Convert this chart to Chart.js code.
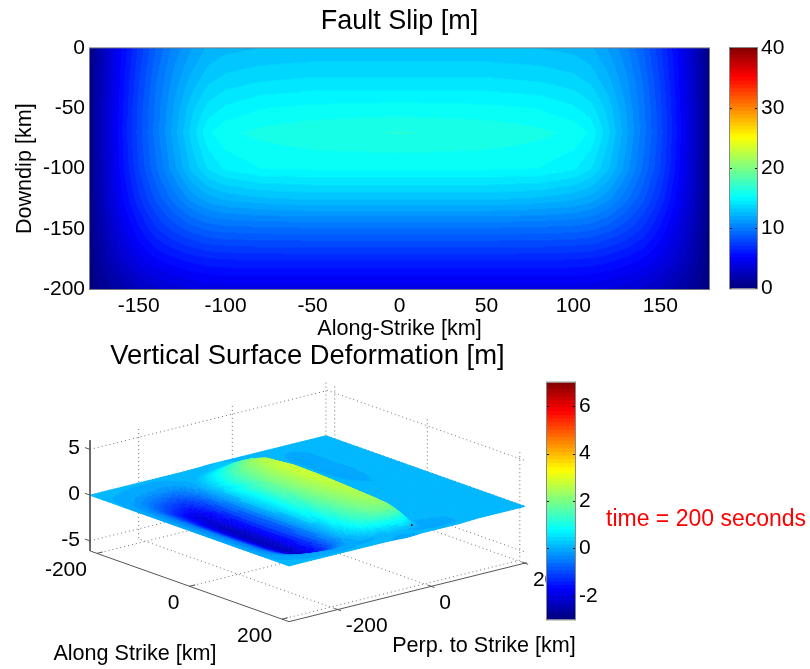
<!DOCTYPE html>
<html>
<head>
<meta charset="utf-8">
<title>Fault Slip and Surface Deformation</title>
<script src="https://cdn.jsdelivr.net/npm/chart.js@4"></script>
<style>
  body { margin: 0; background: #fff; }
  canvas { position: absolute; }
</style>
</head>
<body>
<canvas id="deform" width="810" height="329" style="left:0;top:340px"></canvas>
<canvas id="slip" width="720" height="345" style="left:0;top:0"></canvas>
<canvas id="slipBar" width="90" height="275" style="left:720px;top:30px"></canvas>
<canvas id="deformBar" width="90" height="270" style="left:537px;top:366px"></canvas>
<script>
// fault slip [m]
const slipX = [-178, -170, -160, -150, -140, -130, -120, -110, -100, -80, -50, 0, 50, 80, 100, 110, 120, 130, 140, 150, 160, 170, 178];
const slipY = [0, -25, -50, -70, -100, -125, -150, -175, -200];
const slipGrid = [
  [0.4, 2.5, 5.0, 7.0, 8.8, 10.2, 11.2, 12.0, 12.3, 12.5, 12.6, 12.6, 12.6, 12.5, 12.3, 12.0, 11.2, 10.2, 8.8, 7.0, 5.0, 2.5, 0.4],
  [0.4, 2.6, 5.2, 7.4, 9.3, 10.8, 12.0, 12.9, 13.3, 13.6, 13.8, 13.8, 13.8, 13.6, 13.3, 12.9, 12.0, 10.8, 9.3, 7.4, 5.2, 2.6, 0.4],
  [0.5, 2.8, 5.4, 7.7, 9.6, 11.3, 12.9, 14.0, 14.5, 15.0, 15.2, 15.3, 15.2, 15.0, 14.5, 14.0, 12.9, 11.3, 9.6, 7.7, 5.4, 2.8, 0.5],
  [0.5, 2.8, 5.5, 7.8, 9.7, 11.5, 13.3, 14.9, 15.5, 15.8, 16.1, 16.3, 16.1, 15.8, 15.5, 14.9, 13.3, 11.5, 9.7, 7.8, 5.5, 2.8, 0.5],
  [0.5, 2.7, 5.3, 7.5, 9.3, 11.0, 12.6, 13.8, 14.5, 15.0, 15.1, 15.1, 15.1, 15.0, 14.5, 13.8, 12.6, 11.0, 9.3, 7.5, 5.3, 2.7, 0.5],
  [0.4, 2.5, 4.8, 6.7, 8.3, 9.6, 10.8, 11.6, 12.0, 12.4, 12.6, 12.6, 12.6, 12.4, 12.0, 11.6, 10.8, 9.6, 8.3, 6.7, 4.8, 2.5, 0.4],
  [0.3, 2.1, 4.0, 5.5, 6.8, 7.7, 8.4, 8.9, 9.1, 9.2, 9.3, 9.3, 9.3, 9.2, 9.1, 8.9, 8.4, 7.7, 6.8, 5.5, 4.0, 2.1, 0.3],
  [0.2, 1.6, 3.0, 4.2, 5.0, 5.5, 5.9, 6.2, 6.3, 6.4, 6.4, 6.4, 6.4, 6.4, 6.3, 6.2, 5.9, 5.5, 5.0, 4.2, 3.0, 1.6, 0.2],
  [0.1, 0.8, 1.6, 2.4, 3.0, 3.4, 3.7, 3.9, 4.0, 4.0, 4.0, 4.0, 4.0, 4.0, 4.0, 3.9, 3.7, 3.4, 3.0, 2.4, 1.6, 0.8, 0.1],
];
const slipXTicks = [-150, -100, -50, 0, 50, 100, 150];
const slipYTicks = [0, -50, -100, -150, -200];
const slipBarTicks = [0, 10, 20, 30, 40];

// vertical deformation [m]
const alongNodes = [-215, -190, -175, -160, -140, -110, -50, 0, 50, 110, 140, 160, 175, 190, 215];
const perpNodes = [200, 130, 100, 60, 20, 8, 0, -8, -20, -32, -50, -70, -95, -115, -130, -145, -160, -175, -190, -210, -240, -270, -304];
const deformGrid = [
  [.1, .1, .1, .1, .1, .1, .1, .1, .1, .1, .1, .1, .1, .1, .1],
  [.1, .05, .02, 0, 0, 0, .02, .08, .1, .1, .1, .1, .1, .1, .1],
  [.1, -.05, -.12, -.16, -.16, -.16, -.12, 0, .1, .1, .1, .1, .1, .1, .1],
  [.1, .05, .02, 0, 0, 0, 0, .05, .1, .1, .1, .1, -.05, -.08, 0],
  [.1, .08, .08, .08, .08, .08, .08, .08, .08, .08, .08, 0, -.12, -.12, 0],
  [.1, .1, .12, .15, .2, .2, .2, .2, .2, .15, .1, 0, -.08, -.1, 0],
  [.1, .1, .15, .25, .35, .45, .5, .5, .45, .4, .4, .35, .15, -.08, 0],
  [.1, .12, .35, .63, .9, 1.2, 1.4, 1.37, 1.3, 1.18, 1.1, .92, .45, -.08, 0],
  [.1, .18, .6, 1.08, 1.56, 2.1, 2.35, 2.3, 2.15, 2.0, 1.87, 1.58, .77, -.05, 0],
  [.1, .23, .72, 1.3, 1.88, 2.5, 2.8, 2.75, 2.62, 2.4, 2.24, 1.9, .93, .05, -.05],
  [.1, .2, .7, 1.28, 1.82, 2.42, 2.72, 2.7, 2.56, 2.35, 2.15, 1.8, .85, .02, -.1],
  [.05, .15, .5, 1.0, 1.5, 2.05, 2.35, 2.33, 2.2, 2.0, 1.82, 1.48, .65, 0, -.05],
  [.02, .05, .3, .65, 1.05, 1.5, 1.75, 1.75, 1.65, 1.5, 1.32, 1.02, .4, -.03, 0],
  [0, 0, .08, .3, .55, .88, 1.05, 1.05, 1.0, .88, .75, .52, .18, -.05, 0],
  [0, 0, -.02, 0, .15, .36, .45, .45, .42, .36, .27, .13, -.02, -.05, 0],
  [0, -.02, -.06, -.15, -.26, -.36, -.4, -.4, -.4, -.38, -.35, -.25, -.15, -.05, 0],
  [0, -.05, -.2, -.5, -.85, -1.3, -1.5, -1.55, -1.55, -1.45, -1.22, -.78, -.4, -.12, 0],
  [0, -.08, -.3, -.7, -1.25, -2.0, -2.35, -2.42, -2.42, -2.28, -1.92, -1.2, -.6, -.2, 0],
  [0, -.08, -.28, -.66, -1.2, -1.92, -2.22, -2.3, -2.3, -2.18, -1.84, -1.16, -.58, -.2, 0],
  [0, -.07, -.24, -.58, -1.05, -1.62, -1.88, -1.92, -1.92, -1.82, -1.54, -.98, -.5, -.16, 0],
  [0, -.05, -.15, -.36, -.68, -1.02, -1.18, -1.2, -1.2, -1.14, -.96, -.62, -.32, -.11, 0],
  [0, -.03, -.06, -.15, -.28, -.43, -.5, -.5, -.5, -.48, -.4, -.26, -.14, -.05, 0],
  [-.02, -.02, -.02, -.02, -.02, -.02, -.02, -.02, -.02, -.02, -.02, -.02, -.02, -.02, -.02],
];
const alongTicks = [-200, 0, 200];
const perpTicks = [-200, 0, 200];
const zTicks = [-5, 0, 5];
const deformBarTicks = [-2, 0, 2, 4, 6];
const faultTipMarker = [178, -5, 0];

const slipLimits = [0, 40];
const deformLimits = [-3, 7];
const alongLimits = [-215, 215];
const perpLimits = [-304, 204];
const zLimits = [-6.1, 6];

Chart.defaults.font.family = '"Liberation Sans", Arial, sans-serif';
Chart.defaults.color = "#000";
Chart.defaults.animation = false;

const tickFont = { size: 21 };
const labelFont = { size: 21.6 };
const titleFont = { size: 27, weight: "normal" };

function jet(v, limits) {
  let f = (v - limits[0]) / (limits[1] - limits[0]);
  let i = Math.max(0, Math.min(63, Math.floor(f * 64)));
  let t = (i + 0.5) / 64;
  let ch = (c) => Math.round(255 * Math.max(0, Math.min(1, 1.5 - Math.abs(4 * t - c))));
  return [ch(3), ch(2), ch(1)];
}

function findCell(nodes, v) {
  let i = 0;
  let asc = nodes[1] > nodes[0];
  while (i < nodes.length - 2 && (asc ? v > nodes[i + 1] : v < nodes[i + 1])) i++;
  let t = (v - nodes[i]) / (nodes[i + 1] - nodes[i]);
  return [i, Math.max(0, Math.min(1, t))];
}

// grid value between nodes, same as shading interp
function gridValue(xs, ys, grid, x, y) {
  let [i, tx] = findCell(xs, x);
  let [j, ty] = findCell(ys, y);
  let top = grid[j][i] * (1 - tx) + grid[j][i + 1] * tx;
  let bot = grid[j + 1][i] * (1 - tx) + grid[j + 1][i + 1] * tx;
  return top * (1 - ty) + bot * ty;
}

function nodePoints(xs, ys) {
  let pts = [];
  ys.forEach((y) => xs.forEach((x) => pts.push({ x: x, y: y })));
  return pts;
}

// top panel
const slipImage = {
  id: "slipImage",
  beforeDatasetsDraw(chart) {
    let { ctx, chartArea: a, scales } = chart;
    let w = Math.round(a.right - a.left);
    let h = Math.round(a.bottom - a.top);
    let off = document.createElement("canvas");
    off.width = w;
    off.height = h;
    let octx = off.getContext("2d");
    let img = octx.createImageData(w, h);
    for (let py = 0; py < h; py++) {
      let y = scales.y.getValueForPixel(a.top + py + 0.5);
      for (let px = 0; px < w; px++) {
        let x = scales.x.getValueForPixel(a.left + px + 0.5);
        let c = jet(gridValue(slipX, slipY, slipGrid, x, y), slipLimits);
        let k = (py * w + px) * 4;
        img.data[k] = c[0];
        img.data[k + 1] = c[1];
        img.data[k + 2] = c[2];
        img.data[k + 3] = 255;
      }
    }
    octx.putImageData(img, 0, 0);
    ctx.drawImage(off, a.left, a.top);
  },
  afterDraw(chart) {
    let { ctx, chartArea: a } = chart;
    ctx.save();
    ctx.strokeStyle = "#777";
    ctx.lineWidth = 1;
    ctx.strokeRect(a.left - 0.5, a.top - 0.5, a.right - a.left + 1, a.bottom - a.top + 1);
    ctx.restore();
  },
};

new Chart(document.getElementById("slip"), {
  type: "scatter",
  data: { datasets: [{ data: nodePoints(slipX, slipY), pointRadius: 0 }] },
  plugins: [slipImage],
  options: {
    responsive: false,
    layout: { padding: { right: 11 }, autoPadding: false },
    plugins: {
      legend: { display: false },
      tooltip: { enabled: false },
      title: { display: true, text: "Fault Slip [m]", font: titleFont, color: "#000", fullSize: false, padding: { top: 5, bottom: 11 } },
    },
    scales: {
      x: {
        min: -178,
        max: 178,
        grid: { display: false, drawTicks: false },
        border: { display: false },
        afterBuildTicks: (s) => { s.ticks = slipXTicks.map((v) => ({ value: v })); },
        afterFit: (s) => { s.height = 56; },
        ticks: { font: tickFont, padding: 5, maxRotation: 0 },
        title: { display: true, text: "Along-Strike [km]", font: labelFont, padding: { top: 0, bottom: 3 } },
      },
      y: {
        min: -200,
        max: 0,
        grid: { display: false, drawTicks: false },
        border: { display: false },
        afterBuildTicks: (s) => { s.ticks = slipYTicks.map((v) => ({ value: v })); },
        afterFit: (s) => { s.width = 90; },
        ticks: { font: tickFont, padding: 5 },
        title: { display: true, text: "Downdip [km]", font: labelFont, padding: { top: 12, bottom: 12 } },
      },
    },
  },
});

// colour bars
function barDatasets(limits) {
  let sets = [];
  let step = (limits[1] - limits[0]) / 64;
  for (let i = 0; i < 64; i++) {
    let lo = limits[0] + i * step;
    let c = jet(lo + step / 2, limits);
    sets.push({
      data: [[lo, lo + step]],
      backgroundColor: "rgb(" + c.join(",") + ")",
      grouped: false,
      barPercentage: 1,
      categoryPercentage: 1,
      inflateAmount: 1,
    });
  }
  return sets;
}

const barFrame = {
  id: "barFrame",
  afterDraw(chart) {
    let { ctx, chartArea: a, scales } = chart;
    ctx.save();
    ctx.strokeStyle = "#111";
    ctx.lineWidth = 1;
    scales.y.ticks.forEach((t) => {
      let y = Math.round(scales.y.getPixelForValue(t.value)) + 0.5;
      ctx.beginPath();
      ctx.moveTo(a.left, y);
      ctx.lineTo(a.left + 2, y);
      ctx.moveTo(a.right - 2, y);
      ctx.lineTo(a.right, y);
      ctx.stroke();
    });
    ctx.strokeStyle = "#888";
    ctx.strokeRect(a.left - 0.5, a.top - 0.5, a.right - a.left + 1, a.bottom - a.top + 1);
    ctx.restore();
  },
};

function colourBar(id, limits, ticks, padding, width) {
  new Chart(document.getElementById(id), {
    type: "bar",
    data: { labels: [""], datasets: barDatasets(limits) },
    plugins: [barFrame],
    options: {
      responsive: false,
      layout: { padding: padding, autoPadding: false },
      plugins: { legend: { display: false }, tooltip: { enabled: false }, title: { display: false } },
      scales: {
        x: { display: false },
        y: {
          position: "right",
          min: limits[0],
          max: limits[1],
          grid: { display: false, drawTicks: false },
          border: { display: false },
          afterBuildTicks: (s) => { s.ticks = ticks.map((v) => ({ value: v })); },
          afterFit: (s) => { s.width = width; },
          ticks: { font: tickFont, padding: 4 },
        },
      },
    },
  });
}

colourBar("slipBar", slipLimits, slipBarTicks, { left: 10, top: 18, bottom: 16 }, 53);
colourBar("deformBar", deformLimits, deformBarTicks, { left: 10, top: 15, bottom: 14.5 }, 52);

// bottom panel: fixed view of the 3D box, az/el
function project(along, perp, z) {
  return {
    x: 331.8 + 0.4628 * along + 0.468 * perp,
    y: 495.2 + 0.1644 * along - 0.116 * perp - 9.15 * z,
  };
}

function path3d(points, style) {
  return Object.assign({
    data: points.map((p) => project(p[0], p[1], p[2])),
    showLine: true,
    pointRadius: 0,
    fill: false,
  }, style);
}

const dotted = { borderColor: "#707070", borderWidth: 1, borderDash: [1, 3] };
const solid = { borderColor: "#555", borderWidth: 1 };
const [aMin, aMax] = alongLimits;
const [pMin, pMax] = perpLimits;
const [zMin, zMax] = zLimits;

let gridLines = [];
alongTicks.forEach((a) => {
  gridLines.push(path3d([[a, pMin, zMin], [a, pMax, zMin], [a, pMax, zMax]], dotted));
});
perpTicks.forEach((p) => {
  gridLines.push(path3d([[aMax, p, zMin], [aMin, p, zMin], [aMin, p, zMax]], dotted));
});
zTicks.forEach((z) => {
  gridLines.push(path3d([[aMin, pMin, z], [aMin, pMax, z], [aMax, pMax, z]], dotted));
});

let axisLines = [
  path3d([[aMin, pMin, zMax], [aMin, pMin, zMin], [aMax, pMin, zMin], [aMax, pMax, zMin]], solid),
];
zTicks.forEach((z) => {
  axisLines.push(path3d([[aMin - 11, pMin, z], [aMin, pMin, z]], solid));
});
alongTicks.forEach((a) => {
  axisLines.push(path3d([[a, pMin, zMin], [a, pMin + 12, zMin]], solid));
});
perpTicks.forEach((p) => {
  axisLines.push(path3d([[aMax - 7, p, zMin], [aMax + 7, p, zMin]], solid));
});

const tipMarker = {
  data: [project(faultTipMarker[0], faultTipMarker[1], faultTipMarker[2])],
  pointRadius: 1,
  pointBackgroundColor: "#000",
  pointBorderWidth: 0,
};

const surfaceSet = {
  data: nodePoints(alongNodes, perpNodes).map((n) => project(n.x, n.y, gridValue(alongNodes, perpNodes, deformGrid, n.x, n.y))),
  pointRadius: 0,
};

// first dataset ends up on top, so the grid stays behind the surface
const deformSets = axisLines.concat([tipMarker, surfaceSet], gridLines);
const surfaceIndex = axisLines.length + 1;

const surfacePlugin = {
  id: "surfacePlugin",
  beforeDatasetDraw(chart, args) {
    if (args.index !== surfaceIndex) return;
    let { ctx, scales } = chart;
    let px = (a, p) => {
      let q = project(a, p, gridValue(alongNodes, perpNodes, deformGrid, a, p));
      return [scales.x.getPixelForValue(q.x), scales.y.getPixelForValue(q.y)];
    };
    ctx.save();
    ctx.lineWidth = 0.7;
    // back corner first, front corner last
    for (let j = 0; j < perpNodes.length - 1; j++) {
      let ns = Math.ceil((perpNodes[j] - perpNodes[j + 1]) / 4);
      for (let s = 0; s < ns; s++) {
        let p0 = perpNodes[j] + (perpNodes[j + 1] - perpNodes[j]) * s / ns;
        let p1 = perpNodes[j] + (perpNodes[j + 1] - perpNodes[j]) * (s + 1) / ns;
        for (let a0 = alongNodes[0]; a0 < alongNodes[alongNodes.length - 1]; a0 += 4) {
          let a1 = Math.min(a0 + 4, alongNodes[alongNodes.length - 1]);
          let z = gridValue(alongNodes, perpNodes, deformGrid, (a0 + a1) / 2, (p0 + p1) / 2);
          let col = "rgb(" + jet(z, deformLimits).join(",") + ")";
          let c = [px(a0, p0), px(a1, p0), px(a1, p1), px(a0, p1)];
          ctx.fillStyle = col;
          ctx.strokeStyle = col;
          ctx.beginPath();
          ctx.moveTo(c[0][0], c[0][1]);
          ctx.lineTo(c[1][0], c[1][1]);
          ctx.lineTo(c[2][0], c[2][1]);
          ctx.lineTo(c[3][0], c[3][1]);
          ctx.closePath();
          ctx.fill();
          ctx.stroke();
        }
      }
    }
    ctx.restore();
  },
};

const deformText = {
  id: "deformText",
  afterDraw(chart) {
    let { ctx, scales } = chart;
    let put = (text, x, y, align, size, color) => {
      ctx.font = size + 'px "Liberation Sans", Arial, sans-serif';
      ctx.textAlign = align;
      ctx.textBaseline = "middle";
      ctx.fillStyle = color || "#000";
      ctx.fillText(text, scales.x.getPixelForValue(x), scales.y.getPixelForValue(y));
    };
    ctx.save();
    put("Vertical Surface Deformation [m]", 307.5, 356, "center", 27.4);
    zTicks.forEach((z) => {
      let q = project(aMin, pMin, z);
      put(String(z), q.x - 10, q.y - 1, "right", 21);
    });
    alongTicks.forEach((a) => {
      let q = project(a, pMin, zMin);
      put(String(a), q.x - 10, q.y + 17, "right", 21);
    });
    perpTicks.forEach((p) => {
      let q = project(aMax, p, zMin);
      put(String(p), q.x + 8, q.y + 17, "left", 21);
    });
    put("Along Strike [km]", 135, 654, "center", 21.6);
    put("Perp. to Strike [km]", 484, 646, "center", 21.6);
    put("time = 200 seconds", 606, 520, "left", 23, "#f00");
    ctx.restore();
  },
};

new Chart(document.getElementById("deform"), {
  type: "scatter",
  data: { datasets: deformSets },
  plugins: [surfacePlugin, deformText],
  options: {
    responsive: false,
    layout: { padding: 0, autoPadding: false },
    plugins: { legend: { display: false }, tooltip: { enabled: false }, title: { display: false } },
    scales: {
      x: { display: false, min: 0, max: 810 },
      y: { display: false, min: 340, max: 669, reverse: true },
    },
  },
});
</script>
</body>
</html>
